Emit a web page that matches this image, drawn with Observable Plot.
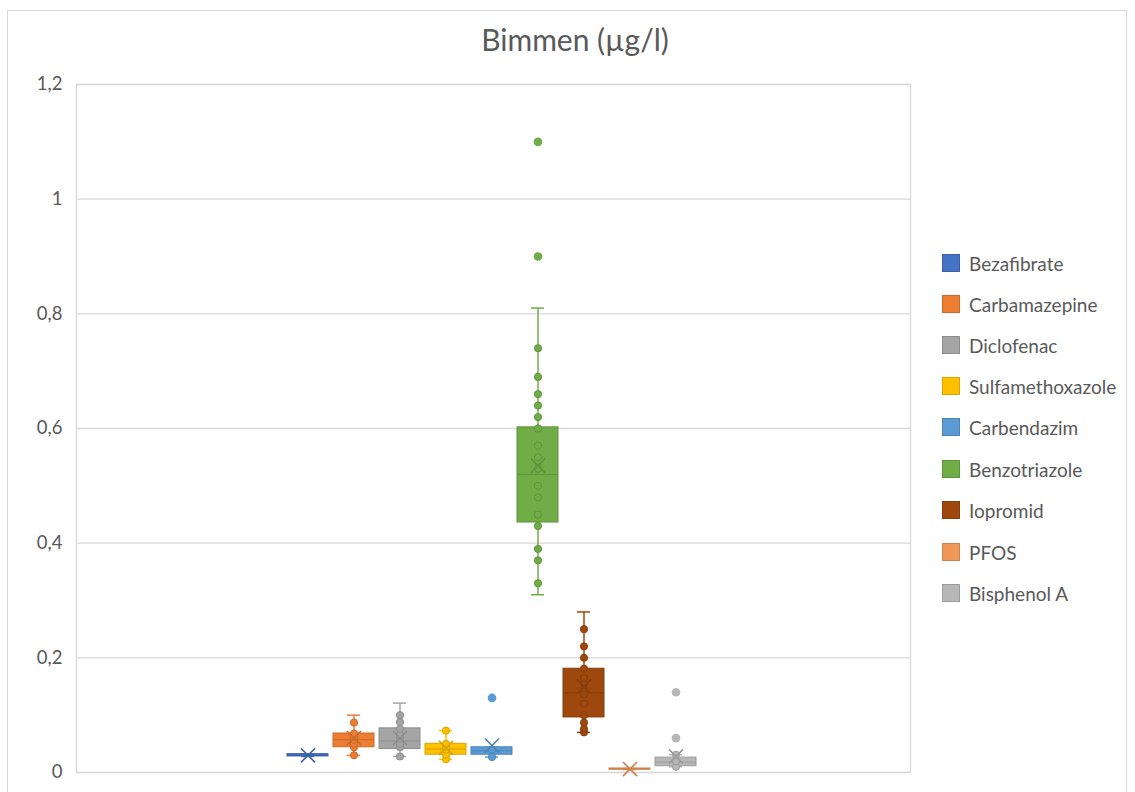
<!DOCTYPE html>
<html>
<head>
<meta charset="utf-8">
<script src="https://cdn.jsdelivr.net/npm/d3@7"></script>
<script src="https://cdn.jsdelivr.net/npm/@observablehq/plot@0.6"></script>
<style>
  body { margin: 0; background: #fff; font-family: Lato, "Open Sans", sans-serif; }
  #wrap { position: relative; width: 1135px; height: 792px; overflow: hidden; }
  #border { position: absolute; left: 7px; top: 10px; width: 1120px; height: 800px; border: 1px solid #D9D9D9; box-sizing: border-box; }
  #title { position: absolute; left: 0; width: 1150px; top: 24px; text-align: center; font-size: 30px; color: #595959; line-height: 1; }
  #chart { position: absolute; left: 0; top: 0; }
  .lg { position: absolute; left: 942px; height: 20px; display: flex; align-items: center; font-size: 19px; color: #595959; white-space: nowrap; }
  .sw { width: 18px; height: 18px; box-sizing: border-box; border: 1px solid; margin-right: 9px; }
</style>
</head>
<body>
<div id="wrap">
  <div id="border"></div>
  <div id="chart"></div>
  <div id="title">Bimmen (µg/l)</div>
</div>
<script>
const series = ["Bezafibrate","Carbamazepine","Diclofenac","Sulfamethoxazole","Carbendazim","Benzotriazole","Iopromid","PFOS","Bisphenol A"];
const colors = ["#4472C4","#ED7D31","#A5A5A5","#FFC000","#5B9BD5","#70AD47","#9E480E","#F1975A","#B7B7B7"];
const q1          = [0.028, 0.044, 0.041, 0.031, 0.031, 0.436, 0.096, 0.005, 0.011];
const median      = [0.030, 0.057, 0.055, 0.041, 0.038, 0.520, 0.139, 0.006, 0.018];
const q3          = [0.032, 0.068, 0.077, 0.050, 0.044, 0.602, 0.181, 0.007, 0.026];
const whiskerLow  = [0.028, 0.030, 0.028, 0.023, 0.027, 0.310, 0.070, 0.005, 0.010];
const whiskerHigh = [0.032, 0.100, 0.121, 0.073, 0.044, 0.810, 0.280, 0.007, 0.031];
const mean        = [0.030, 0.060, 0.060, 0.043, 0.047, 0.535, 0.150, 0.006, 0.028];
const innerPoints = [
  [],
  [0.030, 0.044, 0.050, 0.057, 0.062, 0.068, 0.087],
  [0.028, 0.044, 0.050, 0.059, 0.065, 0.076, 0.088, 0.100],
  [0.023, 0.031, 0.040, 0.045, 0.050, 0.073],
  [0.027, 0.040],
  [0.33, 0.37, 0.39, 0.43, 0.45, 0.48, 0.50, 0.53, 0.55, 0.57, 0.60, 0.62, 0.64, 0.66, 0.69, 0.74],
  [0.070, 0.076, 0.087, 0.100, 0.120, 0.136, 0.155, 0.165, 0.181, 0.200, 0.220, 0.250],
  [],
  [0.010, 0.020, 0.031]
];
const outliers = [[], [], [], [], [0.13], [0.90, 1.10], [], [], [0.06, 0.14]];
const yTicks = [0, 0.2, 0.4, 0.6, 0.8, 1, 1.2];

const dark = c => d3.color(c).darker(0.45).formatHex();
const boxes = series.map((name, i) => ({
  name, q1: q1[i], median: median[i], q3: q3[i], lo: whiskerLow[i], hi: whiskerHigh[i], mean: mean[i],
  color: colors[i], stroke: dark(colors[i])
}));
const pts = series.flatMap((name, i) => innerPoints[i].map(v => ({name, v, color: colors[i], stroke: dark(colors[i])})));
const outs = series.flatMap((name, i) => outliers[i].map(v => ({name, v, color: colors[i]})));

const chart = Plot.plot({
  width: 1135,
  height: 792,
  marginLeft: 76,
  marginRight: 225,
  marginTop: 84,
  marginBottom: 20,
  style: {background: "transparent", fontFamily: "Lato, 'Open Sans', sans-serif"},
  x: {domain: series, range: [281.7, 701.1], paddingInner: 0.1, paddingOuter: 0.05, axis: null},
  y: {domain: [0, 1.2], axis: null},
  marks: [
    Plot.ruleY(yTicks, {stroke: "#D9D9D9", strokeWidth: 1.3}),
    Plot.frame({stroke: "#D9D9D9", strokeWidth: 1.3}),
    Plot.axisY(yTicks, {tickSize: 0, tickPadding: 14, fontSize: 18.5, fill: "#595959",
      tickFormat: d => String(d).replace(".", ",")}),
    Plot.ruleX(boxes, {x: "name", y1: "lo", y2: "hi", stroke: "color", strokeWidth: 1.5}),
    Plot.tickY(boxes, {x: "name", y: "hi", stroke: "color", strokeWidth: 1.5, insetLeft: 14, insetRight: 14}),
    Plot.tickY(boxes, {x: "name", y: "lo", stroke: "color", strokeWidth: 1.5, insetLeft: 14, insetRight: 14}),
    Plot.barY(boxes, {x: "name", y1: "q1", y2: "q3", fill: "color", stroke: "stroke", strokeWidth: 1}),
    Plot.tickY(boxes, {x: "name", y: "median", stroke: "stroke", strokeWidth: 1}),
    Plot.dot(pts, {x: "name", y: "v", r: 3.6, fill: "color", stroke: "stroke", strokeWidth: 1}),
    Plot.dot(outs, {x: "name", y: "v", r: 3.6, fill: "color", stroke: "color"}),
    Plot.dot(boxes, {x: "name", y: "mean", symbol: "times", r: 6.5, stroke: "stroke", strokeWidth: 1.6})
  ]
});
document.getElementById("chart").appendChild(chart);

const legendY = [263, 304, 345, 386, 427, 469, 510, 552, 593];
const wrap = document.getElementById("wrap");
series.forEach((name, i) => {
  const row = document.createElement("div");
  row.className = "lg";
  row.style.top = (legendY[i] - 10) + "px";
  const sw = document.createElement("div");
  sw.className = "sw";
  sw.style.background = colors[i];
  sw.style.borderColor = dark(colors[i]);
  row.appendChild(sw);
  row.appendChild(document.createTextNode(name));
  wrap.appendChild(row);
});
</script>
</body>
</html>
